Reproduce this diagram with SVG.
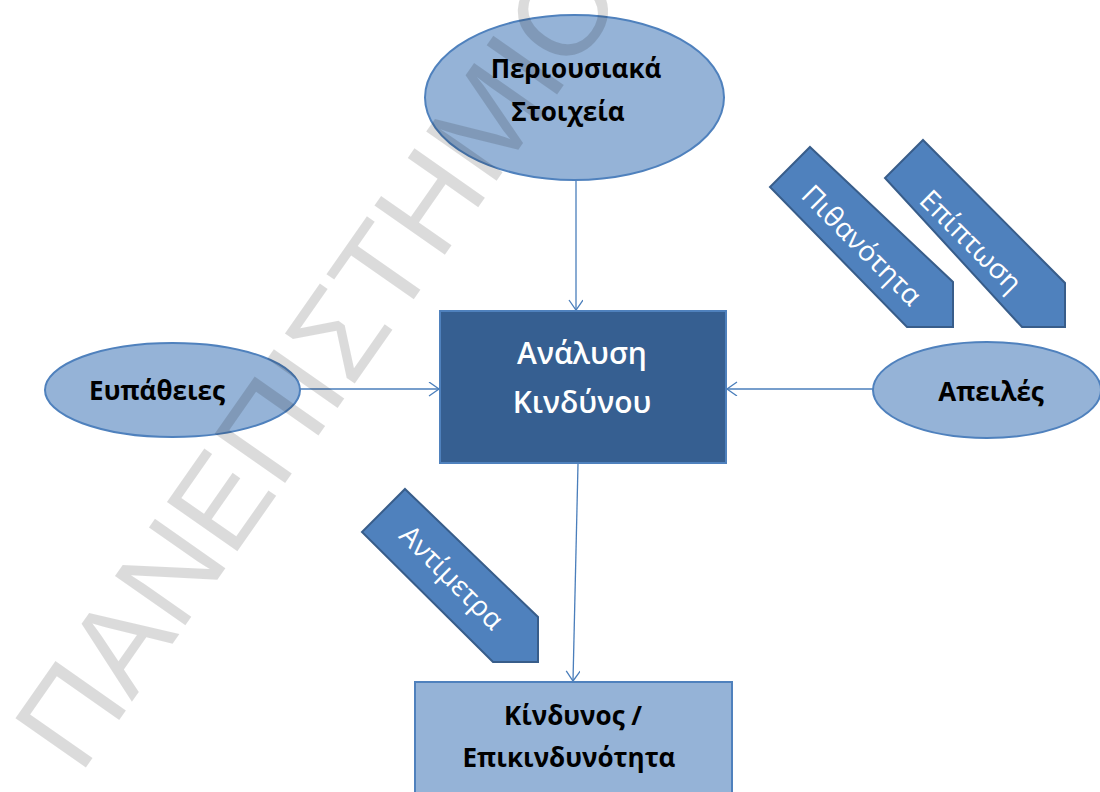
<svg xmlns="http://www.w3.org/2000/svg" width="1100" height="792" viewBox="0 0 1100 792">
<style>
.lt{fill:#95B3D7;stroke:#4F81BD;stroke-width:2}
.dk{fill:#365F91;stroke:#4F81BD;stroke-width:2}
.chev{fill:#4F81BD;stroke:#385D8A;stroke-width:2}
.bl{font-family:"Open Sans","Noto Sans",sans-serif;font-weight:700;font-size:26px;fill:#000;text-anchor:middle}
.wh{font-family:"Open Sans","Noto Sans",sans-serif;font-weight:600;font-size:30px;fill:#fff;text-anchor:middle}
.ch{font-family:"Open Sans","Noto Sans",sans-serif;font-weight:400;font-size:28px;fill:#fff;text-anchor:middle}
.con{fill:none;stroke:#4A7EBB;stroke-width:1.3;marker-end:url(#arr)}
.wm{font-family:"Liberation Sans",Arial,sans-serif;font-size:125px;fill:#000;fill-opacity:0.14}
</style>
<defs>
<marker id="arr" markerUnits="userSpaceOnUse" markerWidth="14" markerHeight="16" refX="11" refY="7" orient="auto">
<path d="M1,0 L11,7 L1,14" fill="none" stroke="#4A7EBB" stroke-width="1.3"/>
</marker>
</defs>
<rect width="1100" height="792" fill="#fff"/>

<g id="connectors">
<line class="con" x1="576" y1="181" x2="576" y2="310"/>
<line class="con" x1="300" y1="389" x2="439" y2="389"/>
<line class="con" x1="873" y1="389" x2="727" y2="389"/>
<line class="con" x1="578" y1="464" x2="573" y2="681"/>
</g>

<g id="node-assets">
<ellipse class="lt" cx="574.5" cy="97.5" rx="149.5" ry="82.5"/>
<text class="bl" x="576" y="78">Περιουσιακά</text>
<text class="bl" x="568" y="121">Στοιχεία</text>
</g>

<g id="node-analysis">
<rect class="dk" x="440" y="311" width="286" height="152"/>
<text class="wh" x="582" y="364">Ανάλυση</text>
<text class="wh" x="582" y="413">Κινδύνου</text>
</g>

<g id="node-vulnerabilities">
<ellipse class="lt" cx="172.5" cy="390" rx="127.5" ry="47"/>
<text class="bl" x="157" y="400">Ευπάθειες</text>
</g>

<g id="node-threats">
<ellipse class="lt" cx="987" cy="390" rx="114" ry="48"/>
<text class="bl" x="991" y="401">Απειλές</text>
</g>

<g id="node-risk">
<rect class="lt" x="415" y="682" width="317" height="130"/>
<text class="bl" x="573" y="725">Κίνδυνος /</text>
<text class="bl" x="569" y="767">Επικινδυνότητα</text>
</g>

<g id="node-probability">
<polygon class="chev" points="810,147 953,282 953,327 907,327 770,187"/>
<text class="ch" transform="translate(862,245) rotate(45)" y="10">Πιθανότητα</text>
</g>

<g id="node-impact">
<polygon class="chev" points="923,140 1065,283 1065,327 1022,327 885,178"/>
<text class="ch" transform="translate(971,241) rotate(45)" y="10">Επίπτωση</text>
</g>

<g id="node-countermeasures">
<polygon class="chev" points="405,489 538,617 538,662 493,662 362,532"/>
<text class="ch" transform="translate(452,577) rotate(45)" y="10">Αντίμετρα</text>
</g>

<g id="watermark">
<text class="wm" transform="translate(80,776) rotate(-55)">ΠΑΝΕΠΙΣΤΗΜΙΟ</text>
</g>
</svg>
